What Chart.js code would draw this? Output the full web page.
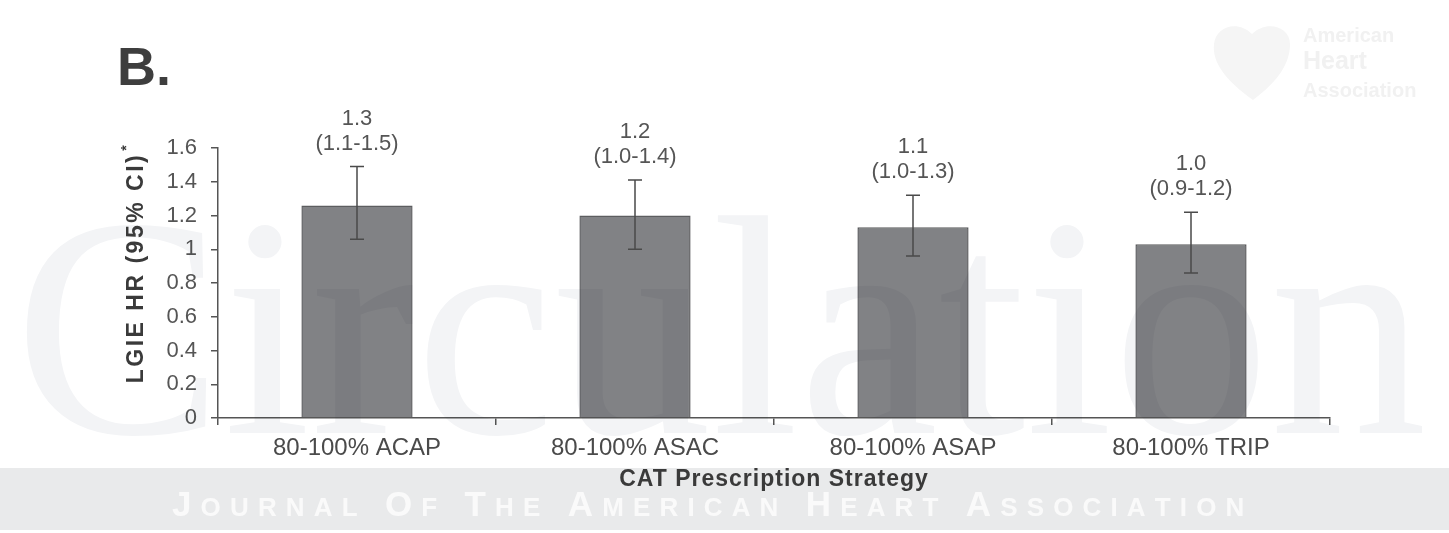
<!DOCTYPE html>
<html>
<head>
<meta charset="utf-8">
<title>LGIE HR by CAT prescription strategy</title>
<script src="https://cdn.jsdelivr.net/npm/chart.js@4.4.1/dist/chart.umd.min.js"></script>
<style>
  html, body { margin: 0; padding: 0; background: #fff; }
  #hrChart { display: block; }
</style>
</head>
<body>
<canvas id="hrChart" width="1449" height="533"></canvas>
<script>
// hazard ratios with 95% CI per prescription strategy
const strategies = ['80-100% ACAP', '80-100% ASAC', '80-100% ASAP', '80-100% TRIP'];
const hazardRatio = [1.26, 1.20, 1.13, 1.03];
const ciLow = [1.06, 1.00, 0.96, 0.86];
const ciHigh = [1.49, 1.41, 1.32, 1.22];
const yTicks = [0, 0.2, 0.4, 0.6, 0.8, 1, 1.2, 1.4, 1.6];

const FONT = '"Liberation Sans", Arial, sans-serif';
const AXIS = '#555555';

function spacedCaps(ctx, words, x0, x1, baseline) {
  // first letter of each word large, rest as small caps, stretched to fill x0..x1
  const glyphs = [];
  words.forEach((w, wi) => {
    [...w].forEach((ch, ci) => glyphs.push({ ch, font: (ci === 0 ? 'bold 35px ' : 'bold 26px ') + FONT }));
    if (wi < words.length - 1) glyphs.push({ ch: ' ', space: true });
  });
  let total = 0, gaps = 0;
  glyphs.forEach(g => {
    if (g.space) { g.w = 0; gaps += 3; return; }
    ctx.font = g.font;
    g.w = ctx.measureText(g.ch).width;
    total += g.w;
    gaps += 1;
  });
  gaps -= 1;
  const gap = (x1 - x0 - total) / gaps;
  let x = x0;
  glyphs.forEach(g => {
    if (g.space) { x += 2 * gap; return; }
    ctx.font = g.font;
    ctx.fillText(g.ch, x, baseline);
    x += g.w + gap;
  });
}

const decorations = {
  id: 'decorations',
  beforeDraw(chart) {
    const ctx = chart.ctx;
    ctx.save();
    // journal band along the bottom
    ctx.fillStyle = '#e9eaeb';
    ctx.fillRect(0, 468, 1449, 62);
    ctx.fillStyle = '#fafafa';
    ctx.textBaseline = 'alphabetic';
    spacedCaps(ctx, ['JOURNAL', 'OF', 'THE', 'AMERICAN', 'HEART', 'ASSOCIATION'], 172, 1290, 516);

    // faint society logo, top right
    ctx.fillStyle = '#f5f5f5';
    ctx.beginPath();
    ctx.moveTo(1253, 100);
    ctx.bezierCurveTo(1225, 80, 1212, 62, 1214, 44);
    ctx.bezierCurveTo(1216, 26, 1238, 20, 1252, 34);
    ctx.bezierCurveTo(1266, 20, 1290, 26, 1290, 44);
    ctx.bezierCurveTo(1290, 62, 1280, 80, 1253, 100);
    ctx.fill();
    ctx.fillStyle = '#f1f1f1';
    ctx.font = 'bold 20px ' + FONT;
    ctx.fillText('American', 1303, 42);
    ctx.font = 'bold 25px ' + FONT;
    ctx.fillText('Heart', 1303, 69);
    ctx.font = 'bold 20px ' + FONT;
    ctx.fillText('Association', 1303, 97);

    // panel letter
    ctx.fillStyle = '#3e3e3e';
    ctx.font = 'bold 54px ' + FONT;
    ctx.fillText('B.', 117, 85);
    ctx.restore();
  },
  afterDatasetsDraw(chart) {
    const ctx = chart.ctx;
    const y = chart.scales.y;
    const bars = chart.getDatasetMeta(0).data;

    // journal watermark laid over the plot
    ctx.save();
    ctx.globalCompositeOperation = 'multiply';
    ctx.fillStyle = '#f3f4f6';
    ctx.font = '314px "Liberation Serif", "Times New Roman", serif';
    ctx.textBaseline = 'alphabetic';
    ctx.fillText('Circulation', 14, 433);
    ctx.restore();

    ctx.save();
    ctx.strokeStyle = '#4a4a4a';
    ctx.lineWidth = 1.5;
    ctx.fillStyle = '#555555';
    ctx.font = '22px ' + FONT;
    ctx.textAlign = 'center';
    ctx.textBaseline = 'middle';
    bars.forEach((bar, i) => {
      const yLo = y.getPixelForValue(ciLow[i]);
      const yHi = y.getPixelForValue(ciHigh[i]);
      ctx.beginPath();
      ctx.moveTo(bar.x, yLo); ctx.lineTo(bar.x, yHi);
      ctx.moveTo(bar.x - 7, yLo); ctx.lineTo(bar.x + 7, yLo);
      ctx.moveTo(bar.x - 7, yHi); ctx.lineTo(bar.x + 7, yHi);
      ctx.stroke();
      ctx.fillText(hazardRatio[i].toFixed(1), bar.x, yHi - 48);
      ctx.fillText('(' + ciLow[i].toFixed(1) + '-' + ciHigh[i].toFixed(1) + ')', bar.x, yHi - 23);
    });
    ctx.restore();
  },
  afterDraw(chart) {
    const ctx = chart.ctx;
    const area = chart.chartArea;
    ctx.save();
    ctx.fillStyle = '#3a3a3a';
    ctx.textAlign = 'center';
    ctx.textBaseline = 'middle';
    ctx.font = 'bold 23px ' + FONT;
    ctx.letterSpacing = '1px';
    ctx.fillText('CAT Prescription Strategy', (area.left + area.right) / 2, 480);

    // rotated y title with superscript asterisk
    ctx.translate(137, 263);
    ctx.rotate(-Math.PI / 2);
    ctx.letterSpacing = '2.5px';
    ctx.font = 'bold 23px ' + FONT;
    const main = 'LGIE HR (95% CI)';
    const w = ctx.measureText(main).width;
    ctx.textAlign = 'left';
    ctx.fillText(main, -w / 2 - 5, 0);
    ctx.font = 'bold 14px ' + FONT;
    ctx.fillText('*', w / 2 - 3, -10);
    ctx.restore();
  }
};

new Chart(document.getElementById('hrChart'), {
  type: 'bar',
  data: {
    labels: strategies,
    datasets: [{
      data: hazardRatio,
      backgroundColor: '#818285',
      borderColor: '#5c5d5f',
      borderWidth: 1.5,
      barPercentage: 0.4,
      categoryPercentage: 1
    }]
  },
  options: {
    responsive: false,
    animation: false,
    devicePixelRatio: 1,
    layout: { padding: { top: 148, right: 119, bottom: 75, left: 0 } },
    plugins: { legend: { display: false }, tooltip: { enabled: false } },
    scales: {
      x: {
        afterFit: s => { s.height = 40; },
        grid: { offset: true, drawOnChartArea: false, tickLength: 7, color: AXIS, lineWidth: 1.5 },
        border: { color: AXIS, width: 1.5 },
        ticks: { color: '#4a4a4a', font: { family: FONT, size: 24 }, padding: 9, maxRotation: 0, autoSkip: false }
      },
      y: {
        min: 0,
        max: 1.6,
        afterFit: s => { s.width = 218; },
        afterBuildTicks: s => { s.ticks = yTicks.map(v => ({ value: v })); },
        grid: { drawOnChartArea: false, tickLength: 7, color: AXIS, lineWidth: 1.5 },
        border: { color: AXIS, width: 1.5 },
        ticks: {
          color: '#555',
          font: { family: FONT, size: 22 },
          padding: 14,
          callback: v => String(+v.toFixed(1))
        }
      }
    }
  },
  plugins: [decorations]
});
</script>
</body>
</html>
